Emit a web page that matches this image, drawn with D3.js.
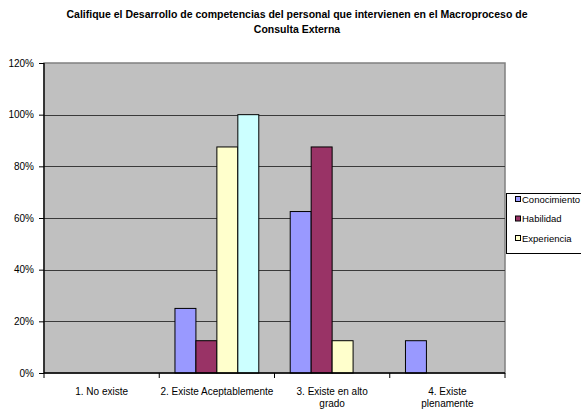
<!DOCTYPE html>
<html>
<head>
<meta charset="utf-8">
<script src="https://cdn.jsdelivr.net/npm/d3@7/dist/d3.min.js"></script>
<style>
html,body{margin:0;padding:0;background:#fff;}
svg{display:block;font-family:"Liberation Sans",Arial,sans-serif;}
</style>
</head>
<body>
<svg id="chart" width="581" height="412"></svg>
<script>
const titleLines = ["Califique el Desarrollo de competencias del personal que intervienen en el Macroproceso de", "Consulta Externa"];
const categories = ["1. No existe", "2. Existe Aceptablemente", "3. Existe en alto grado", "4. Existe plenamente"];
const categoryLines = [["1. No existe"], ["2. Existe Aceptablemente"], ["3. Existe en alto", "grado"], ["4. Existe", "plenamente"]];
const seriesNames = ["Conocimiento", "Habilidad", "Experiencia", "Serie 4"];
const legendNames = ["Conocimiento", "Habilidad", "Experiencia"];
const seriesColors = ["#9999FF", "#993366", "#FFFFCC", "#CCFFFF"];
const conocimiento = [0, 0.25, 0.625, 0.125];
const habilidad = [0, 0.125, 0.875, 0];
const experiencia = [0, 0.875, 0.125, 0];
const serie4 = [0, 1.0, 0, 0];
const yTicks = [0, 0.2, 0.4, 0.6, 0.8, 1.0, 1.2];

const seriesValues = [conocimiento, habilidad, experiencia, serie4];
const svg = d3.select("#chart");
const pL = 44, pR = 505, pT = 63, pB = 373;

// title
svg.append("g").selectAll("text").data(titleLines).join("text")
  .attr("x", 297).attr("y", (d, i) => 18 + i * 15)
  .attr("text-anchor", "middle").attr("font-size", 10.5).attr("font-weight", "bold")
  .attr("fill", "#000").text(d => d);

const x0 = d3.scaleBand().domain(categories).range([pL, pR]).paddingInner(0).paddingOuter(0);
const x1 = d3.scaleBand().domain(seriesNames).range([0, x0.bandwidth()]).paddingInner(0).paddingOuter(0.75);
const y = d3.scaleLinear().domain([0, 1.2]).range([pB, pT]);

// plot background
svg.append("rect").attr("x", pL).attr("y", pT).attr("width", pR - pL).attr("height", pB - pT)
  .attr("fill", "#C0C0C0").attr("stroke", "#808080").attr("stroke-width", 1.5);

// gridlines
svg.append("g").selectAll("line").data(yTicks.filter(t => t > 0 && t < 1.2)).join("line")
  .attr("x1", pL).attr("x2", pR)
  .attr("y1", d => Math.round(y(d)) + 0.5).attr("y2", d => Math.round(y(d)) + 0.5)
  .attr("stroke", "#3a3a3a").attr("stroke-width", 1);

// bars
const groups = svg.append("g").selectAll("g").data(categories).join("g")
  .attr("transform", d => `translate(${x0(d)},0)`);
groups.selectAll("rect").data((c, ci) => seriesNames.map((s, si) => ({s, si, v: seriesValues[si][ci]})).filter(d => d.v > 0))
  .join("rect")
  .attr("x", d => x1(d.s)).attr("width", x1.bandwidth())
  .attr("y", d => y(d.v)).attr("height", d => y(0) - y(d.v))
  .attr("fill", d => seriesColors[d.si]).attr("stroke", "#000").attr("stroke-width", 1);

// y axis
const yAxis = d3.axisLeft(y).tickValues(yTicks).tickFormat(d3.format(".0%")).tickSize(5).tickPadding(5);
const ya = svg.append("g").attr("transform", `translate(${pL},0)`).call(yAxis);
ya.select(".domain").attr("stroke", "#000").attr("stroke-width", 1.3).attr("d", `M0,${pT}V${pB}`);
ya.selectAll(".tick line").attr("stroke", "#000");
ya.selectAll("text").attr("font-size", 10).attr("fill", "#000").attr("font-family", "Liberation Sans, Arial, sans-serif");

// x axis
const xAxis = d3.axisBottom(x0).tickSize(0).tickFormat("");
const xa = svg.append("g").attr("transform", `translate(0,${pB})`).call(xAxis);
xa.select(".domain").attr("stroke", "#000").attr("stroke-width", 1.5).attr("d", `M${pL},0H${pR}`);
xa.selectAll(".tick").remove();
const bounds = categories.map(c => x0(c)).concat([pR]);
xa.append("g").selectAll("line").data(bounds).join("line")
  .attr("x1", d => d).attr("x2", d => d).attr("y1", 0).attr("y2", 5).attr("stroke", "#000");
xa.append("g").selectAll("text").data(categories).join("text")
  .attr("x", d => x0(d) + x0.bandwidth() / 2)
  .attr("text-anchor", "middle").attr("font-size", 10).attr("fill", "#000")
  .each(function(d, i) {
    d3.select(this).selectAll("tspan").data(categoryLines[i]).join("tspan")
      .attr("x", x0(d) + x0.bandwidth() / 2).attr("y", (t, j) => 22 + j * 12).text(t => t);
  });

// legend
const lg = svg.append("g");
lg.append("rect").attr("x", 506.5).attr("y", 193.5).attr("width", 80).attr("height", 60)
  .attr("fill", "#fff").attr("stroke", "#000").attr("stroke-width", 1);
const li = lg.selectAll("g").data(legendNames).join("g")
  .attr("transform", (d, i) => `translate(0,${199 + i * 19.5})`);
li.append("rect").attr("x", 515.5).attr("y", -2.5).attr("width", 5).attr("height", 5)
  .attr("fill", (d, i) => seriesColors[i]).attr("stroke", "#000").attr("stroke-width", 1);
li.append("text").attr("x", 522).attr("y", 3.5).attr("font-size", 9.5).attr("fill", "#000").text(d => d);
</script>
</body>
</html>
